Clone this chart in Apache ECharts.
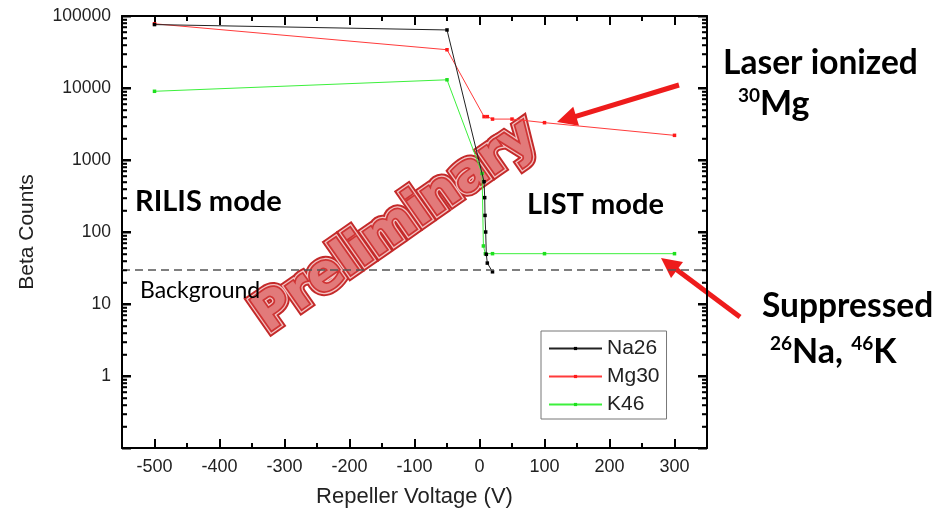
<!DOCTYPE html>
<html>
<head>
<meta charset="utf-8">
<script src="https://cdn.jsdelivr.net/npm/echarts@6/dist/echarts.min.js"></script>
<style>
  html, body { margin: 0; padding: 0; background: #fff; }
  #chart { width: 941px; height: 515px; }
</style>
</head>
<body>
<div id="chart"></div>
<script>
// Repeller voltage scan (V) and beta counts for each isotope
const naVoltage = [-500, -50, 7, 8, 8.5, 9.5, 10.5, 12, 20];
const naCounts  = [76000, 64000, 500, 300, 170, 100, 49, 37, 28];

const mgVoltage = [-500, -50, 7, 12, 20, 50, 100, 300];
const mgCounts  = [78000, 34000, 4000, 4000, 3700, 3700, 3300, 2200];

const kVoltage  = [-500, -50, 4, 6, 9, 20, 100, 300];
const kCounts   = [9000, 13000, 650, 64, 50, 50, 50, 50];

const backgroundLevel = 30;
const seriesNames = ['Na26', 'Mg30', 'K46'];
const seriesColors = ['#222222', '#ff3b3b', '#3cf03c'];
const markerColors = ['#000000', '#ff1a1a', '#1ee01e'];

// axis tick positions
const xMajorTicks = [-500, -400, -300, -200, -100, 0, 100, 200, 300];
const yDecades = [0.1, 1, 10, 100, 1000, 10000, 100000];
const yMinorSteps = [2, 3, 4, 5, 6, 7, 8, 9];

const X_MIN = -550, X_MAX = 350;
const Y_MIN = 0.1, Y_MAX = 100000;
const GRID = { left: 122, right: 234, top: 16, bottom: 67 };
const CHART_W = 941, CHART_H = 515;

const zip = (xs, ys) => xs.map((x, i) => [x, ys[i]]);
const seriesData = [zip(naVoltage, naCounts), zip(mgVoltage, mgCounts), zip(kVoltage, kCounts)];

const AXIS_FONT = 'Liberation Sans';
const axisLine = { show: true, onZero: false, lineStyle: { color: '#000', width: 2 } };

// x axes: a 50 V tick axis plus an overlay carrying the longer 100 V ticks
function xAxisPair(position, withLabels) {
  return [
    {
      type: 'value', position, min: X_MIN, max: X_MAX, interval: 50,
      axisLine, splitLine: { show: false },
      axisTick: { show: true, inside: true, length: 5, lineStyle: { color: '#000', width: 2 } },
      axisLabel: withLabels ? {
        show: true, margin: 10, color: '#222', fontSize: 18, fontFamily: AXIS_FONT,
        formatter: v => (v % 100 === 0 ? String(v) : '')
      } : { show: false },
      name: withLabels ? 'Repeller Voltage (V)' : '',
      nameLocation: 'middle', nameGap: 38,
      nameTextStyle: { fontSize: 22, color: '#222', fontFamily: AXIS_FONT }
    },
    {
      type: 'value', position, min: X_MIN, max: X_MAX,
      axisLine: { show: false, onZero: false }, splitLine: { show: false }, axisLabel: { show: false },
      axisTick: { show: true, inside: true, length: 9, customValues: xMajorTicks,
                  lineStyle: { color: '#000', width: 2 } }
    }
  ];
}

function yAxisDef(position, withLabels) {
  return {
    type: 'log', logBase: 10, position, min: Y_MIN, max: Y_MAX, splitNumber: 6,
    axisLine, splitLine: { show: false },
    axisTick: { show: true, inside: true, length: 9, lineStyle: { color: '#000', width: 2 } },
    minorTick: { show: true, splitNumber: 9, length: 5, lineStyle: { color: '#000', width: 1.5 } },
    axisLabel: withLabels ? {
      show: true, margin: 11, color: '#222', fontSize: 17.5, fontFamily: AXIS_FONT,
      formatter: v => (v < 1 ? '' : String(Math.round(v)))
    } : { show: false },
    name: withLabels ? 'Beta Counts' : '',
    nameLocation: 'middle', nameGap: 84,
    nameTextStyle: { fontSize: 21, color: '#222', fontFamily: AXIS_FONT }
  };
}

const series = seriesNames.map((name, i) => ({
  name, type: 'line', xAxisIndex: 0, yAxisIndex: 0,
  data: seriesData[i],
  symbol: 'rect', symbolSize: 3.5, showSymbol: true,
  lineStyle: { color: seriesColors[i], width: 1 },
  itemStyle: { color: markerColors[i] },
  emphasis: { disabled: true },
  z: 3 - i
}));

// dashed background level
series[0].markLine = {
  silent: true, symbol: 'none', label: { show: false },
  lineStyle: { type: [8, 5], color: '#555', width: 1.6 },
  data: [{ yAxis: backgroundLevel }]
};

function arrow(x1, y1, x2, y2, color, width, headLen, headHalf) {
  const dx = x2 - x1, dy = y2 - y1;
  const len = Math.sqrt(dx * dx + dy * dy);
  const ux = dx / len, uy = dy / len;
  const bx = x2 - ux * headLen, by = y2 - uy * headLen;
  const nx = -uy, ny = ux;
  return {
    type: 'group', z: 100,
    children: [
      { type: 'line', shape: { x1, y1, x2: bx + ux * 2, y2: by + uy * 2 },
        style: { stroke: color, lineWidth: width } },
      { type: 'polygon',
        shape: { points: [[x2, y2], [bx + nx * headHalf, by + ny * headHalf], [bx - nx * headHalf, by - ny * headHalf]] },
        style: { fill: color } }
    ]
  };
}

const NOTE_FONT = 'Lato';
function note(x, y, text, size, weight) {
  return {
    type: 'text', x, y, z: 100,
    style: { text, fill: '#000', font: `${weight} ${size}px ${NOTE_FONT}`,
             textAlign: 'left', textVerticalAlign: 'middle' }
  };
}
function isotopeNote(x, y, text) {
  return {
    type: 'text', x, y, z: 100,
    style: {
      text, fill: '#000', font: `bold 34px ${NOTE_FONT}`,
      textAlign: 'left', textVerticalAlign: 'middle',
      rich: {
        sup: { font: `bold 19px ${NOTE_FONT}`, fill: '#000', verticalAlign: 'top', lineHeight: 20 },
        big: { font: `bold 34px ${NOTE_FONT}`, fill: '#000', lineHeight: 36 }
      }
    }
  };
}

// inward log ticks along the left and right frame edges, placed on the log scale of the plot area
const plotLeft = GRID.left, plotRight = CHART_W - GRID.right;
const plotTop = GRID.top, plotHeight = CHART_H - GRID.top - GRID.bottom;
const logSpan = Math.log10(Y_MAX) - Math.log10(Y_MIN);
const yPixel = v => plotTop + plotHeight * (Math.log10(Y_MAX) - Math.log10(v)) / logSpan;
const tickMarks = [];
function addTick(value, len, width) {
  const y = Math.round(yPixel(value)) + 0.5;
  const style = { stroke: '#000', lineWidth: width };
  tickMarks.push({ type: 'line', silent: true, z: 50, shape: { x1: plotLeft, y1: y, x2: plotLeft + len, y2: y }, style });
  tickMarks.push({ type: 'line', silent: true, z: 50, shape: { x1: plotRight, y1: y, x2: plotRight - len, y2: y }, style });
}
yDecades.forEach((d, i) => {
  addTick(d, 9, 2);
  if (i < yDecades.length - 1) yMinorSteps.forEach(m => addTick(d * m, 5, 1.5));
});

// overlaid "Preliminary" stamp
const stampText = 'Preliminary';
const stampFont = 'bold 51px "DejaVu Sans"';
const stamp = {
  type: 'group', x: 396, y: 227, rotation: 35 * Math.PI / 180, z: 200,
  children: [
    { type: 'text', style: { text: stampText, font: stampFont, textAlign: 'center', textVerticalAlign: 'middle',
        fill: '#c42a2a', stroke: '#c42a2a', lineWidth: 10, lineJoin: 'round',
        shadowBlur: 4, shadowColor: 'rgba(0,0,0,0.45)', shadowOffsetX: 2, shadowOffsetY: 2 } },
    { type: 'text', style: { text: stampText, font: stampFont, textAlign: 'center', textVerticalAlign: 'middle',
        fill: '#f2c4c4', stroke: '#f2c4c4', lineWidth: 6, lineJoin: 'round' } },
    { type: 'text', style: { text: stampText, font: stampFont, textAlign: 'center', textVerticalAlign: 'middle',
        fill: '#e27a7a', stroke: '#cf3434', lineWidth: 3.5, lineJoin: 'round' } }
  ]
};

const annotations = [
  note(135, 202, 'RILIS mode', 29, 'bold'),
  note(527, 205, 'LIST mode', 29, 'bold'),
  note(140, 291, 'Background', 23, 'normal'),
  note(723, 63, 'Laser ionized', 33.5, 'bold'),
  isotopeNote(738, 104, '{sup|30}{big|Mg}'),
  note(762, 306, 'Suppressed', 33.5, 'bold'),
  isotopeNote(770, 352, '{sup|26}{big|Na, }{sup|46}{big|K}'),
  arrow(679, 85, 557, 122, '#ee1c1c', 5, 20, 10),
  arrow(740, 317, 661, 258, '#ee1c1c', 5, 20, 10),
  stamp
];

const option = {
  animation: false,
  backgroundColor: '#fff',
  grid: GRID,
  xAxis: [...xAxisPair('bottom', true), ...xAxisPair('top', false)],
  yAxis: [yAxisDef('left', true), yAxisDef('right', false)],
  legend: {
    orient: 'vertical', left: 541, top: 331,
    padding: [7, 7, 4, 7], itemGap: 7, itemWidth: 53, itemHeight: 4,
    borderColor: '#777', borderWidth: 1, backgroundColor: '#fff',
    textStyle: { fontSize: 21, color: '#222', fontFamily: AXIS_FONT },
    data: seriesNames, selectedMode: false
  },
  series,
  graphic: tickMarks.concat(annotations)
};

const chart = echarts.init(document.getElementById('chart'), null, { renderer: 'canvas' });
chart.setOption(option);
</script>
</body>
</html>
